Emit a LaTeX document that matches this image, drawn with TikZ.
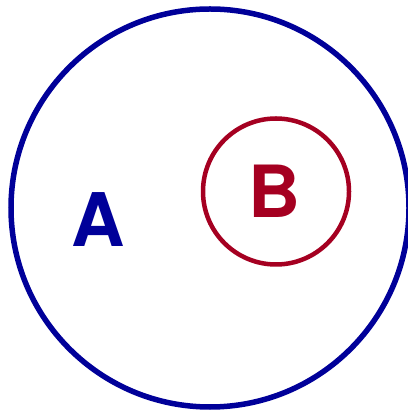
\documentclass[tikz,border=0pt]{standalone}
\usepackage{fontspec}
\setmainfont{TeX Gyre Heros}
\definecolor{setblue}{HTML}{000099}
\definecolor{setred}{HTML}{A50021}
\begin{document}
\begin{tikzpicture}[x=1pt,y=1pt,
  bigset/.style={draw=setblue,line width=5.5pt},
  subset/.style={draw=setred,line width=4.5pt},
  setlabel/.style={inner sep=0pt}]
\useasboundingbox (0,0) rectangle (407,414);
\draw[bigset] (210,206) circle (199);
\draw[subset] (276,222.5) circle (73);
\node[setlabel,text=setblue] (a) at (98,194.5) {\fontsize{74}{74}\selectfont\bfseries A};
\node[setlabel,text=setred] (b) at (274,223) {\fontsize{72}{72}\selectfont\bfseries B};
\end{tikzpicture}
\end{document}
